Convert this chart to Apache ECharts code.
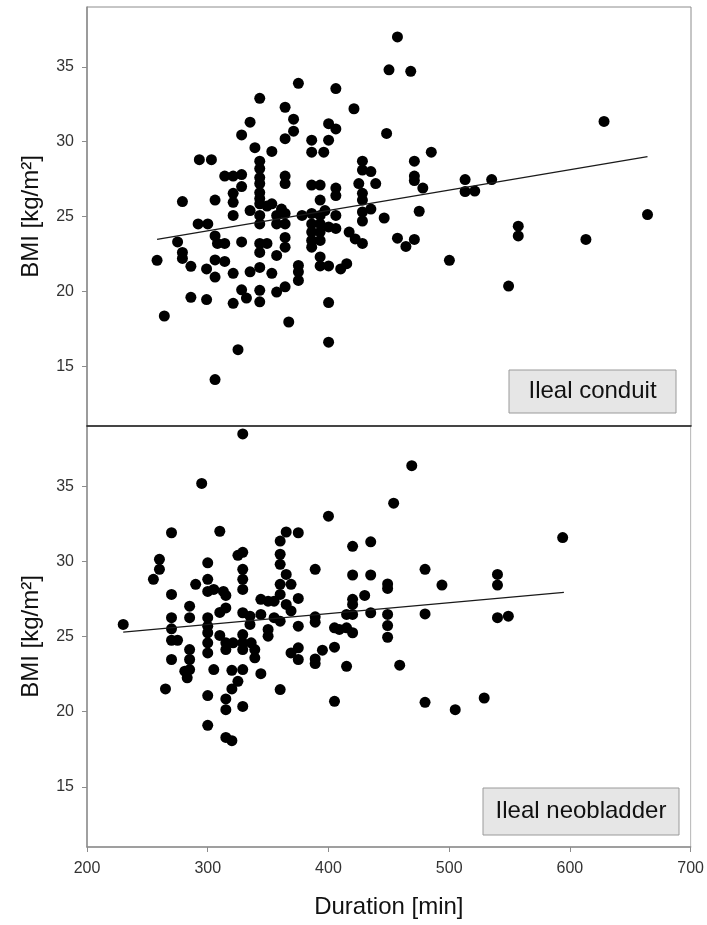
<!DOCTYPE html>
<html>
<head>
<meta charset="utf-8">
<script src="https://cdn.jsdelivr.net/npm/echarts@6/dist/echarts.min.js"></script>
<style>
  html, body { margin: 0; padding: 0; background: #fff; }
  #chart { width: 707px; height: 925px; }
</style>
</head>
<body>
<div id="chart"></div>
<script>
// Ileal conduit: operation duration [min] and BMI [kg/m2]
const conduitDuration = [
  450, 375, 406, 343, 421, 364, 371, 371, 364, 335, 328, 339, 353, 400, 406, 400, 386, 386, 396, 448,
  293, 303, 343, 343, 343, 343, 343, 343, 364, 364, 314, 321, 328, 328, 321, 321, 279, 306, 335, 353,
  361, 386, 393, 393, 406, 406, 428, 428, 435, 425, 439, 428, 428, 435, 446, 321, 343, 343, 343, 349,
  364, 357, 364, 357, 378, 386, 386, 386, 386, 386, 393, 393, 393, 393, 397, 400, 406, 406, 417, 422,
  428, 428, 428, 292, 300, 258, 275, 279, 279, 286, 306, 308, 314, 306, 314, 299, 306, 321, 328, 335,
  343, 343, 349, 343, 353, 357, 364, 364, 375, 375, 375, 393, 393, 400, 410, 415, 328, 332, 343, 357,
  364, 343, 321, 286, 299, 400, 264, 367, 325, 400, 306, 457, 468, 628, 485, 471, 471, 471, 478, 513,
  513, 521, 535, 475, 664, 457, 464, 471, 500, 557, 557, 613, 549
];
const conduitBMI = [
  34.8, 33.9, 33.55, 32.9, 32.2, 32.3, 31.5, 30.7, 30.2, 31.3, 30.45, 29.6, 29.35, 31.2, 30.85, 30.1, 30.1, 29.3, 29.3, 30.55,
  28.8, 28.8, 28.7, 28.2, 27.6, 27.2, 26.6, 26.2, 27.7, 27.2, 27.7, 27.7, 27.8, 27.0, 26.55, 25.95, 26.0, 26.1, 25.4, 25.85,
  25.5, 27.1, 27.1, 26.1, 26.9, 26.4, 28.7, 28.1, 28.0, 27.2, 27.2, 26.55, 26.1, 25.5, 24.9, 25.07, 25.85, 25.07, 24.5, 25.7,
  25.2, 24.5, 24.5, 25.07, 25.07, 25.2, 24.5, 23.96, 23.4, 22.95, 25.07, 24.5, 23.96, 23.4, 25.4, 24.3, 25.07, 24.2, 23.96, 23.5,
  23.2, 25.3, 24.7, 24.5, 24.5, 22.07, 23.3, 22.6, 22.2, 21.67, 23.7, 23.2, 23.2, 22.1, 22.0, 21.5, 20.95, 21.2, 23.3, 21.3,
  21.6, 23.2, 23.2, 22.6, 21.2, 22.4, 23.6, 22.95, 21.73, 21.3, 20.73, 22.3, 21.7, 21.7, 21.5, 21.85, 20.1, 19.55, 20.07, 19.95,
  20.3, 19.3, 19.2, 19.6, 19.45, 19.25, 18.35, 17.95, 16.1, 16.6, 14.1, 37.0, 34.7, 31.35, 29.3, 28.7, 27.7, 27.4, 26.9, 27.47,
  26.67, 26.7, 27.47, 25.35, 25.13, 23.55, 23.0, 23.47, 22.07, 24.35, 23.7, 23.47, 20.35
];

// Ileal neobladder: operation duration [min] and BMI [kg/m2]
const neobladderDuration = [
  329, 295, 400, 270, 310, 365, 375, 360, 420, 435, 454, 325, 329, 360, 360, 365, 260, 260, 255, 300,
  300, 290, 300, 305, 313, 315, 329, 329, 329, 360, 360, 369, 375, 344, 350, 355, 365, 369, 389, 420,
  435, 430, 420, 420, 270, 285, 310, 315, 449, 449, 469, 594, 480, 494, 540, 540, 449, 480, 540, 549,
  449, 449, 459, 480, 505, 529, 230, 270, 285, 270, 270, 275, 270, 285, 285, 281, 285, 283, 265, 300,
  300, 300, 300, 300, 305, 300, 300, 310, 315, 321, 315, 320, 325, 320, 315, 315, 329, 315, 320, 329,
  335, 335, 329, 329, 336, 329, 339, 339, 329, 344, 344, 350, 350, 355, 360, 360, 375, 375, 369, 375,
  389, 389, 395, 389, 389, 405, 409, 415, 420, 405, 415, 405, 415, 420, 435
];
const neobladderBMI = [
  38.47, 35.18, 33.0, 31.9, 32.0, 31.95, 31.9, 31.35, 31.0, 31.3, 33.87, 30.4, 30.6, 30.47, 29.8, 29.13, 30.13, 29.47, 28.8, 29.9,
  28.8, 28.47, 28.0, 28.13, 28.0, 27.73, 29.47, 28.8, 28.13, 28.47, 27.8, 28.47, 27.53, 27.47, 27.35, 27.35, 27.13, 26.7, 29.47, 29.09,
  29.09, 27.73, 27.47, 27.13, 27.8, 27.02, 26.6, 26.9, 28.5, 28.2, 36.36, 31.58, 29.47, 28.42, 29.13, 28.42, 26.47, 26.5, 26.25, 26.35,
  25.73, 24.95, 23.09, 20.62, 20.13, 20.91, 25.8, 26.25, 26.25, 25.51, 24.75, 24.75, 23.47, 24.13, 23.47, 22.69, 22.8, 22.25, 21.51, 26.25,
  25.69, 25.25, 24.58, 23.91, 22.8, 21.07, 19.09, 25.07, 24.58, 24.58, 24.13, 22.75, 22.02, 21.51, 20.85, 20.13, 20.35, 18.29, 18.07, 26.58,
  26.35, 25.8, 25.13, 24.58, 24.58, 24.13, 24.13, 23.58, 22.8, 22.53, 26.47, 25.47, 25.02, 26.25, 26.02, 21.47, 25.69, 24.25, 23.91, 23.47,
  26.31, 25.95, 24.09, 23.51, 23.2, 25.58, 25.47, 25.58, 25.25, 24.29, 23.02, 20.69, 26.47, 26.47, 26.58
];

// Linear regression lines (end points)
const conduitFitDuration = [258, 664];
const conduitFitBMI = [23.47, 29.0];
const neobladderFitDuration = [230, 595];
const neobladderFitBMI = [25.29, 27.93];

// Axis settings
const durationRange = [200, 700];
const durationStep = 100;
const bmiRange = [11, 39];
const bmiTicks = [15, 20, 25, 30, 35];
const panelNames = ['Ileal conduit', 'Ileal neobladder'];

const zip = (xs, ys) => xs.map((x, i) => [x, ys[i]]);

const FONT = '"Liberation Sans", Arial, Helvetica, sans-serif';
const AXIS_GREY = '#8c8c8c';

const chart = echarts.init(document.getElementById('chart'), null, { renderer: 'canvas' });

function yAxisFor(gridIndex) {
  return {
    type: 'value',
    gridIndex,
    min: bmiRange[0],
    max: bmiRange[1],
    name: 'BMI [kg/m²]',
    nameLocation: 'middle',
    nameGap: 44,
    nameTextStyle: { fontFamily: FONT, fontSize: 24, color: '#111' },
    axisLine: { show: true, lineStyle: { color: AXIS_GREY, width: 1.5 } },
    axisTick: { show: true, inside: false, length: 5, customValues: bmiTicks,
      lineStyle: { color: AXIS_GREY, width: 1 } },
    axisLabel: { show: true, customValues: bmiTicks, margin: 13,
      fontFamily: FONT, fontSize: 16, color: '#333' },
    splitLine: { show: false }
  };
}

function legendBox(x, y, w, h, text) {
  return {
    type: 'group',
    children: [
      { type: 'rect', shape: { x, y, width: w, height: h },
        style: { fill: '#e6e6e6', stroke: '#9a9a9a', lineWidth: 1 } },
      { type: 'text', x: x + w / 2, y: y + h / 2,
        style: { text, fontFamily: FONT, fontSize: 24, fill: '#111',
          align: 'center', verticalAlign: 'middle' } }
    ]
  };
}

const dotStyle = { color: '#000', opacity: 1 };

const option = {
  animation: false,
  backgroundColor: '#fff',
  grid: [
    { left: 87, top: 7, width: 604, height: 419, show: true,
      borderColor: AXIS_GREY, borderWidth: 1, backgroundColor: 'transparent' },
    { left: 87, top: 426, width: 604, height: 421, show: true,
      borderColor: '#b5b5b5', borderWidth: 1, backgroundColor: 'transparent' }
  ],
  xAxis: [
    {
      type: 'value', gridIndex: 0, min: durationRange[0], max: durationRange[1], interval: durationStep,
      axisLine: { show: true, lineStyle: { color: '#1e1e1e', width: 1.6 } },
      axisTick: { show: false }, axisLabel: { show: false }, splitLine: { show: false }
    },
    {
      type: 'value', gridIndex: 1, min: durationRange[0], max: durationRange[1], interval: durationStep,
      name: 'Duration [min]', nameLocation: 'middle', nameGap: 48,
      nameTextStyle: { fontFamily: FONT, fontSize: 24, color: '#111' },
      axisLine: { show: true, lineStyle: { color: AXIS_GREY, width: 1.5 } },
      axisTick: { show: true, inside: false, length: 5, lineStyle: { color: AXIS_GREY, width: 1 } },
      axisLabel: { show: true, margin: 14, fontFamily: FONT, fontSize: 16, color: '#333' },
      splitLine: { show: false }
    }
  ],
  yAxis: [yAxisFor(0), yAxisFor(1)],
  series: [
    { type: 'scatter', xAxisIndex: 0, yAxisIndex: 0, data: zip(conduitDuration, conduitBMI),
      symbol: 'circle', symbolSize: 11, itemStyle: dotStyle, z: 3 },
    { type: 'line', xAxisIndex: 0, yAxisIndex: 0, data: zip(conduitFitDuration, conduitFitBMI),
      showSymbol: false, lineStyle: { color: '#1a1a1a', width: 1.3 }, z: 4 },
    { type: 'scatter', xAxisIndex: 1, yAxisIndex: 1, data: zip(neobladderDuration, neobladderBMI),
      symbol: 'circle', symbolSize: 11, itemStyle: dotStyle, z: 3 },
    { type: 'line', xAxisIndex: 1, yAxisIndex: 1, data: zip(neobladderFitDuration, neobladderFitBMI),
      showSymbol: false, lineStyle: { color: '#1a1a1a', width: 1.3 }, z: 4 }
  ],
  graphic: [
    legendBox(509, 370, 167, 43, panelNames[0]),
    legendBox(483, 788, 196, 47, panelNames[1])
  ]
};

chart.setOption(option);
</script>
</body>
</html>
